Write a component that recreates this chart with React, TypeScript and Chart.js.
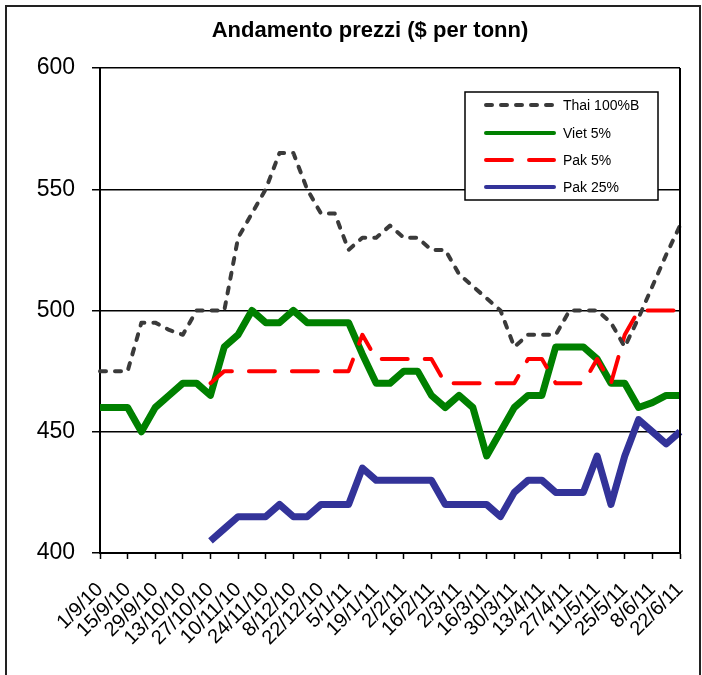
import { useEffect, useRef } from 'react';
import { Chart, registerables } from 'chart.js';

Chart.register(...registerables);

const FONT = '"Liberation Sans", Arial, Helvetica, sans-serif';

const chartTitle = 'Andamento prezzi ($ per tonn)';

const categories = [
  '1/9/10', '8/9/10', '15/9/10', '22/9/10', '29/9/10', '6/10/10', '13/10/10', '20/10/10',
  '27/10/10', '3/11/10', '10/11/10', '17/11/10', '24/11/10', '1/12/10', '8/12/10', '15/12/10',
  '22/12/10', '29/12/10', '5/1/11', '12/1/11', '19/1/11', '26/1/11', '2/2/11', '9/2/11',
  '16/2/11', '23/2/11', '2/3/11', '9/3/11', '16/3/11', '23/3/11', '30/3/11', '6/4/11',
  '13/4/11', '20/4/11', '27/4/11', '4/5/11', '11/5/11', '18/5/11', '25/5/11', '1/6/11',
  '8/6/11', '15/6/11', '22/6/11',
];

const seriesNames = ['Thai 100%B', 'Viet 5%', 'Pak 5%', 'Pak 25%'];

const thai100B = [
  475, 475, 475, 495, 495, 492, 490, 500, 500, 500, 530, 540, 550, 565, 565, 550,
  540, 540, 525, 530, 530, 535, 530, 530, 525, 525, 515, 510, 505, 500, 485, 490,
  490, 490, 500, 500, 500, 495, 485, 497, 510, 523, 535,
];

const viet5 = [
  460, 460, 460, 450, 460, 465, 470, 470, 465, 485, 490, 500, 495, 495, 500, 495,
  495, 495, 495, 482, 470, 470, 475, 475, 465, 460, 465, 460, 440, 450, 460, 465,
  465, 485, 485, 485, 480, 470, 470, 460, 462, 465, 465,
];

const pak5 = [
  null, null, null, null, null, null, null, null, 470, 475, 475, 475, 475, 475, 475, 475,
  475, 475, 475, 490, 480, 480, 480, 480, 480, 470, 470, 470, 470, 470, 470, 480,
  480, 470, 470, 470, 480, 470, 490, 500, 500, 500, 500,
];

const pak25 = [
  null, null, null, null, null, null, null, null, 405, 410, 415, 415, 415, 420, 415, 415,
  420, 420, 420, 435, 430, 430, 430, 430, 430, 420, 420, 420, 420, 415, 425, 430,
  430, 425, 425, 425, 440, 420, 440, 455, 450, 445, 450,
];

const yTicks = [400, 450, 500, 550, 600];

const seriesColors = ['#3a3a3a', '#008000', '#ff0000', '#333399'];
const seriesWidths = [4, 7, 4, 7];
const seriesDashes: number[][] = [[6, 9], [], [26, 17], []];
const seriesOrder = [0, 2, 1, 3];

const decorPlugin = {
  id: 'decor',
  beforeDraw(chart: any) {
    const ctx = chart.ctx;
    ctx.save();
    ctx.fillStyle = '#ffffff';
    ctx.fillRect(0, 0, chart.width, chart.height);
    ctx.restore();
  },
  afterDraw(chart: any) {
    const ctx = chart.ctx;
    const a = chart.chartArea;
    ctx.save();
    // right border of plot area
    ctx.strokeStyle = '#000';
    ctx.lineWidth = 2;
    ctx.beginPath();
    ctx.moveTo(a.right, a.top);
    ctx.lineTo(a.right, a.bottom);
    ctx.stroke();

    // outer frame
    ctx.strokeStyle = '#222';
    ctx.lineWidth = 2;
    ctx.strokeRect(6, 6, 694, chart.height + 20);

    // title
    ctx.fillStyle = '#000';
    ctx.font = `bold 22px ${FONT}`;
    ctx.textAlign = 'center';
    ctx.textBaseline = 'middle';
    ctx.fillText(chartTitle, 370, 31);

    // legend
    const lx = 465, ly = 92, lw = 193, lh = 108;
    ctx.fillStyle = '#fff';
    ctx.fillRect(lx, ly, lw, lh);
    ctx.strokeStyle = '#000';
    ctx.lineWidth = 1.5;
    ctx.strokeRect(lx, ly, lw, lh);
    const rows = [105, 133, 160, 187];
    ctx.font = `14px ${FONT}`;
    ctx.textAlign = 'left';
    ctx.textBaseline = 'middle';
    chart.data.datasets.forEach((ds: any, i: number) => {
      const y = rows[i];
      ctx.save();
      ctx.strokeStyle = ds.borderColor;
      ctx.lineWidth = 4;
      ctx.lineCap = 'round';
      ctx.setLineDash(ds.borderDash || []);
      ctx.beginPath();
      ctx.moveTo(486, y);
      ctx.lineTo(554, y);
      ctx.stroke();
      ctx.restore();
      ctx.fillStyle = '#000';
      ctx.fillText(ds.label, 563, y + 1);
    });
    ctx.restore();
  },
};

export default function App() {
  const canvasRef = useRef<HTMLCanvasElement | null>(null);

  useEffect(() => {
    const canvas = canvasRef.current;
    if (!canvas) return;
    const seriesData = [thai100B, viet5, pak5, pak25];
    const chart = new Chart(canvas, {
      type: 'line',
      data: {
        labels: categories,
        datasets: seriesData.map((d, i) => ({
          label: seriesNames[i],
          data: d,
          borderColor: seriesColors[i],
          backgroundColor: seriesColors[i],
          borderWidth: seriesWidths[i],
          borderDash: seriesDashes[i],
          borderCapStyle: seriesDashes[i].length ? 'round' : 'butt',
          borderJoinStyle: 'round',
          pointRadius: 0,
          pointHoverRadius: 0,
          tension: 0,
          fill: false,
          spanGaps: false,
          order: seriesOrder[i],
        })),
      },
      options: {
        animation: false,
        responsive: false,
        maintainAspectRatio: false,
        devicePixelRatio: 1,
        events: [],
        layout: { padding: { top: 68, right: 22, left: 0, bottom: 0 } },
        plugins: {
          legend: { display: false },
          title: { display: false },
          tooltip: { enabled: false },
        },
        scales: {
          x: {
            type: 'category',
            offset: false,
            afterFit: (s: any) => {
              s.height = 122;
              s.paddingLeft = 0;
              s.paddingRight = 0;
            },
            border: { display: true, color: '#000', width: 2 },
            grid: {
              display: true,
              drawOnChartArea: false,
              drawTicks: true,
              tickLength: 6,
              tickWidth: 1.5,
              tickColor: (c: any) => (c.index % 2 === 0 ? '#000' : 'rgba(0,0,0,0)'),
            },
            ticks: {
              autoSkip: false,
              maxRotation: 45,
              minRotation: 45,
              padding: 19,
              color: '#000',
              font: { family: FONT, size: 20 },
              callback: (_v: any, idx: number) => (idx % 2 === 0 ? categories[idx] : ''),
            },
          },
          y: {
            min: 400,
            max: 600,
            afterFit: (s: any) => {
              s.width = 100;
              s.paddingTop = 0;
              s.paddingBottom = 0;
            },
            afterBuildTicks: (s: any) => { s.ticks = yTicks.map((v) => ({ value: v })); },
            border: { display: true, color: '#000', width: 2 },
            grid: {
              color: '#000',
              lineWidth: 1.5,
              drawTicks: true,
              tickLength: 8,
              tickColor: '#000',
            },
            ticks: {
              padding: 17,
              color: '#000',
              font: { family: FONT, size: 23 },
            },
          },
        },
      },
      plugins: [decorPlugin],
    } as any);
    return () => chart.destroy();
  }, []);

  return (
    <div style={{ position: 'fixed', left: 0, top: 0, width: 702, height: 675 }}>
      <canvas ref={canvasRef} width={702} height={675} style={{ width: 702, height: 675, display: 'block' }} />
    </div>
  );
}
